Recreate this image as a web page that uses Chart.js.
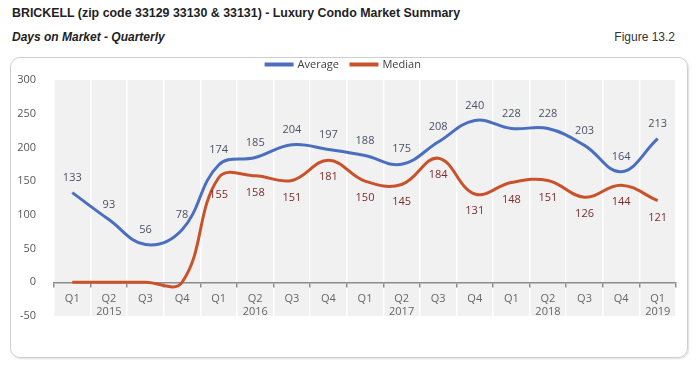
<!DOCTYPE html>
<html lang="en">
<head>
    <meta charset="UTF-8">
    <title>Brickell - Days on Market</title>
    <script src="https://cdn.jsdelivr.net/npm/chart.js"></script>
    <style>
        body { margin: 0; background: #fff; width: 700px; height: 368px; position: relative; font-family: "Liberation Sans Narrow", "Liberation Sans", Arial, sans-serif; }
        .title { position: absolute; left: 12px; top: 6px; font-size: 12.4px; font-weight: bold; color: #222; }
        .subtitle { position: absolute; left: 12px; top: 30px; font-size: 12px; font-weight: bold; font-style: italic; color: #222; }
        .figure { position: absolute; right: 25px; top: 30px; font-size: 12px; color: #333; }
        .box { position: absolute; left: 10px; top: 57px; width: 676px; height: 299px; border: 1px solid #cfcfcf; border-radius: 10px; box-shadow: 1px 1px 2px #ddd; }
        canvas { display: block; }
    </style>
</head>
<body>
    <div class="title">BRICKELL (zip code 33129 33130 &amp; 33131) - Luxury Condo Market Summary</div>
    <div class="subtitle">Days on Market - Quarterly</div>
    <div class="figure">Figure 13.2</div>
    <div class="box"><canvas id="domChart" width="676" height="299"></canvas></div>
    <script>
        const quarters = [
            'Q1', ['Q2', '2015'], 'Q3', 'Q4',
            'Q1', ['Q2', '2016'], 'Q3', 'Q4',
            'Q1', ['Q2', '2017'], 'Q3', 'Q4',
            'Q1', ['Q2', '2018'], 'Q3', 'Q4',
            ['Q1', '2019']
        ];
        const averageDays = [133, 93, 56, 78, 174, 185, 204, 197, 188, 175, 208, 240, 228, 228, 203, 164, 213];
        const medianDays = [0, 0, 0, 0, 155, 158, 151, 181, 150, 145, 184, 131, 148, 151, 126, 144, 121];
        const medianShowLabel = [false, false, false, false, true, true, true, true, true, true, true, true, true, true, true, true, true];

        // grey plot background
        const plotBg = {
            id: 'plotBg',
            beforeDraw(chart) {
                const a = chart.chartArea, ctx = chart.ctx;
                ctx.save();
                ctx.fillStyle = '#f1f1f1';
                ctx.fillRect(a.left, a.top, a.right - a.left, a.bottom - a.top);
                ctx.restore();
            }
        };

        // value labels: average above, median below
        const valueLabels = {
            id: 'valueLabels',
            afterDatasetsDraw(chart) {
                const ctx = chart.ctx;
                ctx.save();
                ctx.font = '11px "Open Sans", sans-serif';
                ctx.textAlign = 'center';
                ctx.textBaseline = 'middle';
                chart.getDatasetMeta(0).data.forEach((pt, i) => {
                    ctx.fillStyle = '#4a5264';
                    ctx.fillText(averageDays[i], pt.x, pt.y - 15);
                });
                chart.getDatasetMeta(1).data.forEach((pt, i) => {
                    if (!medianShowLabel[i]) return;
                    ctx.fillStyle = '#7b2b2b';
                    ctx.fillText(medianDays[i], pt.x, pt.y + 17);
                });
                ctx.restore();
            }
        };

        new Chart(document.getElementById('domChart'), {
            type: 'line',
            data: {
                labels: quarters,
                datasets: [
                    { label: 'Average', data: averageDays, borderColor: '#4a6fbe', backgroundColor: '#4a6fbe', borderWidth: 3, tension: 0.4, pointRadius: 0 },
                    { label: 'Median', data: medianDays, borderColor: '#c9522b', backgroundColor: '#c9522b', borderWidth: 3, tension: 0.4, pointRadius: 0 }
                ]
            },
            options: {
                responsive: false,
                animation: false,
                layout: { padding: { top: -11, right: 11, bottom: 41, left: 0 } },
                plugins: {
                    legend: {
                        position: 'top',
                        labels: {
                            boxWidth: 26, boxHeight: 1, padding: 12,
                            color: '#404040',
                            font: { size: 11, family: '"Open Sans", sans-serif' }
                        }
                    },
                    tooltip: { enabled: false }
                },
                scales: {
                    y: {
                        min: -50, max: 300,
                        ticks: { stepSize: 50, color: '#595959', padding: 10, font: { size: 11, family: '"Open Sans", sans-serif' } },
                        grid: { display: false },
                        border: { display: false },
                        afterFit(scale) { scale.width = 43; }
                    },
                    x: {
                        position: { y: 0 },
                        offset: true,
                        grid: { offset: true, color: '#ffffff', lineWidth: 1.5, tickColor: '#8c8c8c', tickLength: 4 },
                        border: { color: '#8c8c8c', width: 1.5 },
                        ticks: { color: '#666666', padding: 6, maxRotation: 0, autoSkip: false, font: { size: 11, family: '"Open Sans", sans-serif' } }
                    }
                }
            },
            plugins: [plotBg, valueLabels]
        });
    </script>
</body>
</html>
